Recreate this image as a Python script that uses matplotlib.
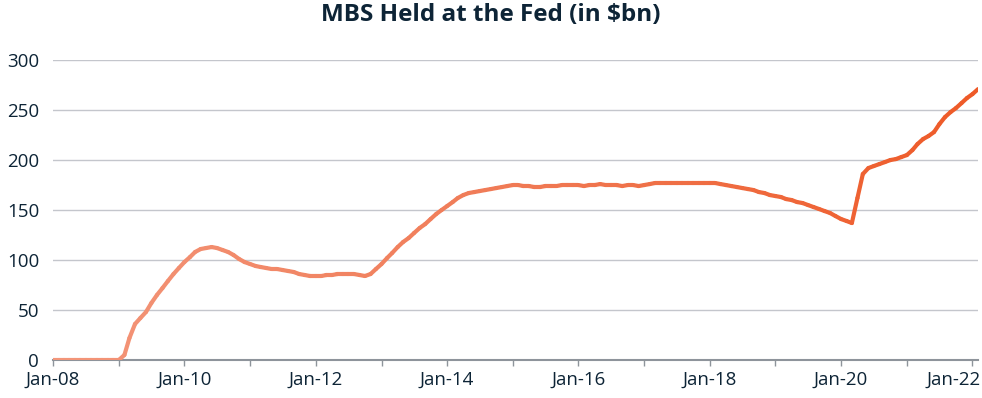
import matplotlib
matplotlib.use('Agg')
import matplotlib.pyplot as plt
import matplotlib.dates as mdates
import matplotlib.transforms as mtransforms
from matplotlib.collections import LineCollection
from matplotlib.colors import LinearSegmentedColormap
import numpy as np
import pandas as pd

# Dados mensais (estimados a partir do gráfico), em $bn
start_month = '2008-01-01'
mbs_2008 = [0, 0, 0, 0, 0, 0, 0, 0, 0, 0, 0, 0]
mbs_2009 = [0, 5, 22, 36, 42, 48, 57, 65, 72, 79, 86, 92]
mbs_2010 = [98, 103, 108, 111, 112, 113, 112, 110, 108, 105, 101, 98]
mbs_2011 = [96, 94, 93, 92, 91, 91, 90, 89, 88, 86, 85, 84]
mbs_2012 = [84, 84, 85, 85, 86, 86, 86, 86, 85, 84, 86, 91]
mbs_2013 = [96, 102, 107, 113, 118, 122, 127, 132, 136, 141, 146, 150]
mbs_2014 = [154, 158, 162, 165, 167, 168, 169, 170, 171, 172, 173, 174]
mbs_2015 = [175, 175, 174, 174, 173, 173, 174, 174, 174, 175, 175, 175]
mbs_2016 = [175, 174, 175, 175, 176, 175, 175, 175, 174, 175, 175, 174]
mbs_2017 = [175, 176, 177, 177, 177, 177, 177, 177, 177, 177, 177, 177]
mbs_2018 = [177, 177, 176, 175, 174, 173, 172, 171, 170, 168, 167, 165]
mbs_2019 = [164, 163, 161, 160, 158, 157, 155, 153, 151, 149, 147, 144]
mbs_2020 = [141, 139, 137, 162, 186, 192, 194, 196, 198, 200, 201, 203]
mbs_2021 = [205, 210, 216, 221, 224, 228, 236, 243, 248, 252, 257, 262]
mbs_2022 = [266, 271]

values = (mbs_2008 + mbs_2009 + mbs_2010 + mbs_2011 + mbs_2012 + mbs_2013 + mbs_2014
          + mbs_2015 + mbs_2016 + mbs_2017 + mbs_2018 + mbs_2019 + mbs_2020
          + mbs_2021 + mbs_2022)
dates = pd.date_range(start_month, periods=len(values), freq='MS')

text_color = '#0d2436'
grid_color = '#c4c6cc'
axis_color = '#8e949b'

plt.rcParams['font.family'] = ['Open Sans', 'DejaVu Sans']

fig = plt.figure(figsize=(9.82, 3.98), dpi=100)
ax = fig.add_axes([0.054, 0.0955, 0.942, 0.7535])

# Linha com gradiente de cor (claro -> escuro)
x = mdates.date2num(dates)
y = np.array(values, dtype=float)
pts = np.array([x, y]).T.reshape(-1, 1, 2)
segs = np.concatenate([pts[:-1], pts[1:]], axis=1)
cmap = LinearSegmentedColormap.from_list('laranja', ['#f3967a', '#f07a55', '#ee5a28'])
lc = LineCollection(segs, cmap=cmap, linewidth=3.0, capstyle='round', joinstyle='round', zorder=3)
lc.set_array(np.linspace(0, 1, len(segs)))
ax.add_collection(lc)

ax.set_xlim(x[0], x[-1])
ax.set_ylim(0, 300)
ax.set_yticks(range(0, 301, 50))
ax.grid(axis='y', color=grid_color, linewidth=1)
ax.set_axisbelow(True)

ax.xaxis.set_major_locator(mdates.YearLocator(2))
ax.xaxis.set_minor_locator(mdates.YearLocator(1))
ax.xaxis.set_major_formatter(mdates.DateFormatter('Jan-%y'))
ax.tick_params(axis='x', which='both', length=4, color=axis_color, width=1,
               labelsize=13.5, labelcolor=text_color, pad=4)
ax.tick_params(axis='y', length=0, labelsize=13.5, labelcolor=text_color, pad=10)

for s in ['top', 'right', 'left']:
    ax.spines[s].set_visible(False)
ax.spines['bottom'].set_color(axis_color)
ax.spines['bottom'].set_linewidth(1.5)

# Último rótulo (Jan-22) alinhado à direita para não ser cortado
fig.canvas.draw()
last = ax.get_xticklabels()[-1]
last.set_horizontalalignment('right')
last.set_transform(last.get_transform() + mtransforms.ScaledTranslation(0.08, 0, fig.dpi_scale_trans))

fig.text(0.5, 0.962, 'MBS Held at the Fed (in $bn)', ha='center', va='center',
         fontsize=17.5, fontweight='bold', color=text_color)

plt.savefig('out.png', dpi=100)
